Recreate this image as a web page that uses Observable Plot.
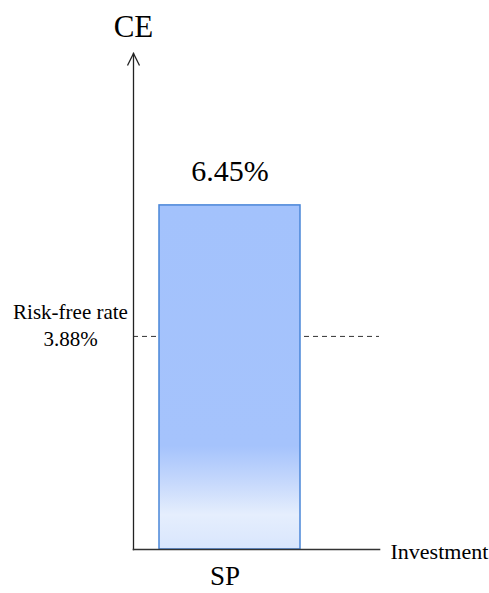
<!DOCTYPE html>
<html>
<head>
<meta charset="utf-8">
<script src="https://cdn.jsdelivr.net/npm/d3@7"></script>
<script src="https://cdn.jsdelivr.net/npm/@observablehq/plot@0.6"></script>
<style>
  html, body { margin: 0; padding: 0; background: #fff; }
</style>
</head>
<body>
<div id="chart"></div>
<script>
// ---- data ----
const categories = ["SP"];
const values = [6.45];
const riskFreeRate = [3.88];
const riskFreeLabel = "Risk-free rate";
const yAxisTitle = "CE";
const xAxisTitle = "Investment";
// axis extent (value units): origin of the drawn axes and tip of the y arrow
const yDomain = [-0.3, 9.43];

const data = categories.map((name, i) => ({name, value: values[i]}));
const rf = riskFreeRate.map(v => ({value: v}));

const serif = "'Liberation Serif', 'Times New Roman', Times, Tinos, 'DejaVu Serif', serif";

const chevron = {
  draw(ctx) {
    ctx.moveTo(-6, 12);
    ctx.lineTo(0, 0);
    ctx.lineTo(6, 12);
  }
};

const fmt = v => v.toFixed(2) + "%";

const plot = Plot.plot({
  width: 489,
  height: 593,
  marginTop: 53,
  marginBottom: 44,
  marginLeft: 133,
  marginRight: 110,
  style: {fontFamily: serif, background: "#fff", color: "#000"},
  x: {type: "band", domain: categories, paddingInner: 0, paddingOuter: 0.3662, align: 0.245, axis: null},
  y: {domain: yDomain, axis: null},
  marks: [
    Plot.ruleY(rf, {y: "value", stroke: "#333", strokeWidth: 1, strokeDasharray: "5,4"}),
    Plot.barY(data, {x: "name", y1: () => yDomain[0], y2: "value", fill: "url(#barGrad)", stroke: "#4a86d8", strokeWidth: 1.5}),
    Plot.text(data, {x: "name", y: "value", text: d => fmt(d.value), dy: -34, lineAnchor: "middle", fontSize: 30, fill: "#000"}),
    Plot.frame({anchor: "left", stroke: "#222", strokeWidth: 1.3}),
    Plot.frame({anchor: "bottom", stroke: "#333", strokeWidth: 1.6}),
    Plot.dot([0], {frameAnchor: "top-left", symbol: chevron, fill: "none", stroke: "#222", strokeWidth: 1.3}),
    Plot.text([yAxisTitle], {frameAnchor: "top-left", text: d => d, textAnchor: "middle", lineAnchor: "middle", dy: -26, fontSize: 31, fill: "#000"}),
    Plot.text([xAxisTitle], {frameAnchor: "bottom-right", text: d => d, textAnchor: "start", lineAnchor: "middle", dx: 11, dy: 2, fontSize: 22, fill: "#000"}),
    Plot.text(data, {x: "name", frameAnchor: "bottom", text: "name", lineAnchor: "middle", dy: 27, dx: -5, fontSize: 27, fill: "#000"}),
    Plot.text(rf, {y: "value", frameAnchor: "left", text: d => riskFreeLabel + "\n" + fmt(d.value), textAnchor: "middle", lineAnchor: "middle", dx: -63, dy: -13, lineHeight: 1.3, fontSize: 21, fill: "#000"})
  ]
});

plot.querySelectorAll("text, g").forEach(el => el.style.fontFamily = serif);
plot.style.fontFamily = serif;

// gradient for the bar fill
const ns = "http://www.w3.org/2000/svg";
const defs = document.createElementNS(ns, "defs");
const grad = document.createElementNS(ns, "linearGradient");
grad.setAttribute("id", "barGrad");
grad.setAttribute("x1", "0"); grad.setAttribute("y1", "0");
grad.setAttribute("x2", "0"); grad.setAttribute("y2", "1");
[["0", "#a3c2fc"], ["0.70", "#a5c3fc"], ["0.80", "#c4d7fc"], ["0.90", "#e5eefd"], ["1", "#d9e6fd"]].forEach(([o, c]) => {
  const s = document.createElementNS(ns, "stop");
  s.setAttribute("offset", o);
  s.setAttribute("stop-color", c);
  grad.appendChild(s);
});
defs.appendChild(grad);
plot.insertBefore(defs, plot.firstChild);

document.getElementById("chart").appendChild(plot);
</script>
</body>
</html>
